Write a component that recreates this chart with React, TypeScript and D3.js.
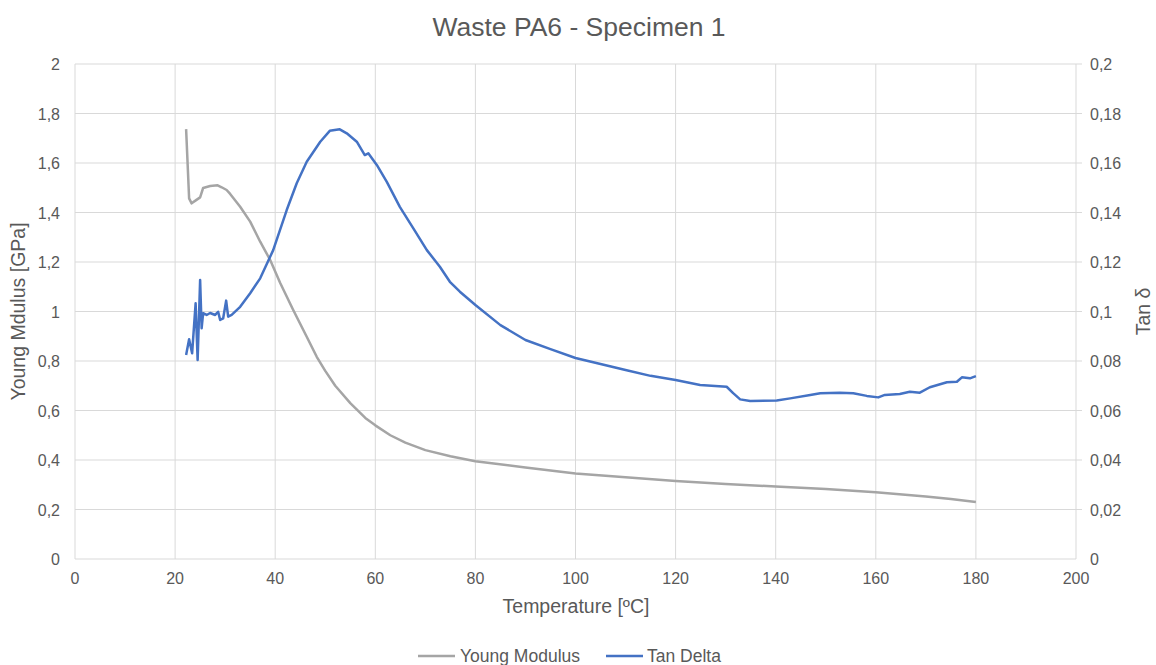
import React from "react";
import * as d3 from "d3";

const title = "Waste PA6 - Specimen 1";
const xTicks = [0, 20, 40, 60, 80, 100, 120, 140, 160, 180, 200];
const leftTicks = [0, 0.2, 0.4, 0.6, 0.8, 1, 1.2, 1.4, 1.6, 1.8, 2];
const rightTicks = [0, 0.02, 0.04, 0.06, 0.08, 0.1, 0.12, 0.14, 0.16, 0.18, 0.2];

const modTemp = [22.2, 22.8, 23.3, 24.2, 25.0, 25.6, 27.0, 28.5, 29.3, 30.3, 31.0, 33.0, 35.0, 37.0, 39.0, 41.0, 43.6, 46.3, 48.3, 50, 52, 55, 58, 60, 63, 66, 70, 75, 80, 90, 100, 110, 120, 130, 140, 150, 160, 170, 175, 180];
const modulus = [1.737, 1.457, 1.437, 1.45, 1.461, 1.499, 1.507, 1.51, 1.502, 1.491, 1.475, 1.423, 1.363, 1.282, 1.208, 1.115, 1.006, 0.898, 0.817, 0.76, 0.7, 0.63, 0.57, 0.54, 0.5, 0.47, 0.44, 0.415, 0.395, 0.37, 0.345, 0.33, 0.315, 0.303, 0.293, 0.283, 0.27, 0.253, 0.242, 0.23];

const tanTemp = [22.2, 22.8, 23.4, 24.1, 24.5, 25.0, 25.3, 25.6, 26.3, 27.0, 28.0, 28.6, 29.0, 29.6, 30.2, 30.6, 31.3, 33.0, 35.0, 37.0, 39.6, 42.3, 44.3, 46.3, 49.0, 50.9, 52.9, 54.3, 56.3, 57.9, 58.6, 60.3, 62.3, 64.9, 67.6, 70.3, 72.9, 74.9, 76.9, 80, 85, 90, 95, 100, 105, 110, 115, 120, 124.9, 130.2, 131.5, 132.9, 134.9, 140.2, 142.9, 146.9, 148.9, 152.8, 155.5, 158.2, 160.5, 161.8, 164.8, 166.8, 168.8, 170.8, 174.2, 176.2, 177.2, 178.8, 180.0];
const tanDelta = [0.0824, 0.0888, 0.0831, 0.1033, 0.0804, 0.1127, 0.0932, 0.0993, 0.0986, 0.0994, 0.0986, 0.0999, 0.0966, 0.0972, 0.1044, 0.0979, 0.0986, 0.1019, 0.1074, 0.1134, 0.1248, 0.141, 0.1518, 0.1605, 0.1686, 0.173, 0.1736, 0.172, 0.1686, 0.1632, 0.1639, 0.1592, 0.1524, 0.1423, 0.1336, 0.1248, 0.1181, 0.112, 0.108, 0.1026, 0.0945, 0.0885, 0.0848, 0.0812, 0.0788, 0.0764, 0.074, 0.0723, 0.0703, 0.0696, 0.067, 0.0645, 0.0638, 0.064, 0.0649, 0.0663, 0.067, 0.0672, 0.067, 0.0659, 0.0653, 0.0663, 0.0667, 0.0676, 0.0672, 0.0694, 0.0714, 0.0716, 0.0734, 0.073, 0.0739];

const W = 1156, H = 665;
const left = 75, right = 1076, top = 64, bottom = 559;
const textColor = "#595959";
const grid = "#d9d9d9";
const font = "'Liberation Sans', Arial, sans-serif";

export default function App() {
  const x = d3.scaleLinear().domain([0, 200]).range([left, right]);
  const yL = d3.scaleLinear().domain([0, 2]).range([bottom, top]);
  const yR = d3.scaleLinear().domain([0, 0.2]).range([bottom, top]);
  const modLine = d3.line<number>().x((_, i) => x(modTemp[i])).y((d) => yL(d))(modulus) || "";
  const tanLine = d3.line<number>().x((_, i) => x(tanTemp[i])).y((d) => yR(d))(tanDelta) || "";
  const fmt = (v: number) => String(v).replace(".", ",");
  return (
    <svg width={W} height={H} style={{ position: "absolute", left: 0, top: 0, background: "#fff" }} fontFamily={font}>
      <rect width={W} height={H} fill="#fff" />
      <text x={579} y={36} textAnchor="middle" fontSize={26.5} fill={textColor}>{title}</text>
      {leftTicks.map((t) => (
        <line key={"g" + t} x1={left} x2={t === 0 ? right : right + 6} y1={yL(t)} y2={yL(t)} stroke={grid} strokeWidth={1} />
      ))}
      {xTicks.map((t) => (
        <line key={"v" + t} x1={x(t)} x2={x(t)} y1={top} y2={bottom} stroke={grid} strokeWidth={1} />
      ))}
      {leftTicks.map((t) => (
        <text key={"l" + t} x={60} y={yL(t) + 6} textAnchor="end" fontSize={16} fill={textColor}>{fmt(t)}</text>
      ))}
      {rightTicks.map((t) => (
        <text key={"r" + t} x={1090} y={yR(t) + 6} textAnchor="start" fontSize={16} fill={textColor}>{fmt(t)}</text>
      ))}
      {xTicks.map((t) => (
        <text key={"x" + t} x={x(t)} y={584} textAnchor="middle" fontSize={16} fill={textColor}>{t}</text>
      ))}
      <text x={576} y={613} textAnchor="middle" fontSize={19.5} fill={textColor}>Temperature [ºC]</text>
      <text transform={`translate(25,${(top + bottom) / 2}) rotate(-90)`} textAnchor="middle" fontSize={19.5} fill={textColor}>Young Mdulus [GPa]</text>
      <text transform={`translate(1150,${(top + bottom) / 2}) rotate(-90)`} textAnchor="middle" fontSize={19.5} fill={textColor}>Tan δ</text>
      <path d={modLine} fill="none" stroke="#a5a5a5" strokeWidth={2.5} strokeLinejoin="round" />
      <path d={tanLine} fill="none" stroke="#4472c4" strokeWidth={2.5} strokeLinejoin="round" />
      <line x1={418} x2={455} y1={656} y2={656} stroke="#a5a5a5" strokeWidth={2.5} />
      <text x={460} y={662} fontSize={17.5} fill={textColor}>Young Modulus</text>
      <line x1={606} x2={643} y1={656} y2={656} stroke="#4472c4" strokeWidth={2.5} />
      <text x={647} y={662} fontSize={17.5} fill={textColor}>Tan Delta</text>
    </svg>
  );
}
